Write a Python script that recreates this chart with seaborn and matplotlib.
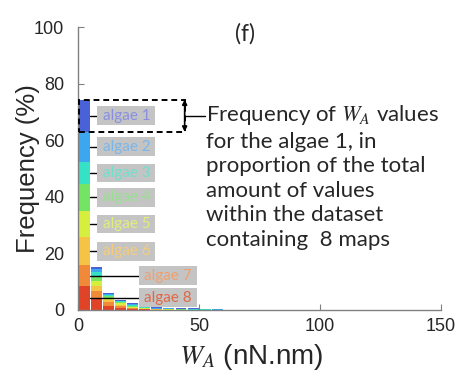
import numpy as np
import pandas as pd
import matplotlib
matplotlib.use("Agg")
import matplotlib.pyplot as plt
from matplotlib.patches import Rectangle
import seaborn as sns

sns.set_style("ticks")
plt.rcParams['font.family'] = ['Liberation Sans', 'DejaVu Sans']
plt.rcParams['mathtext.fontset'] = 'stix'

# ---- data (frequency in % per 5 nN.nm bin) ----
bin_centers = [2.5, 7.5, 12.5, 17.5, 22.5, 27.5, 32.5, 37.5, 42.5, 47.5, 52.5, 57.5]
algae_names = ["algae 1", "algae 2", "algae 3", "algae 4",
               "algae 5", "algae 6", "algae 7", "algae 8"]
algae1 = [11.4, 1.0, 0.3, 0.3, 0.4, 0.3, 0.3, 0.2, 0.2, 0.15, 0.1, 0.1]
algae2 = [10.6, 1.0, 0.3, 0.2, 0.4, 0.3, 0.3, 0.2, 0.2, 0.15, 0.15, 0.1]
algae3 = [7.9, 1.2, 0.4, 0.3, 0.3, 0.2, 0.1, 0.1, 0.1, 0.1, 0.05, 0.05]
algae4 = [9.4, 1.8, 0.6, 0.4, 0.3, 0.2, 0.1, 0.05, 0.05, 0.03, 0.03, 0.02]
algae5 = [9.4, 1.8, 0.8, 0.4, 0.2, 0.1, 0.05, 0.05, 0.02, 0.02, 0.02, 0.01]
algae6 = [10.0, 1.8, 0.8, 0.5, 0.2, 0.1, 0.05, 0.03, 0.02, 0.02, 0.01, 0.01]
algae7 = [7.1, 2.9, 1.2, 0.6, 0.3, 0.1, 0.05, 0.03, 0.02, 0.01, 0.01, 0.01]
algae8 = [8.6, 3.8, 1.5, 0.8, 0.3, 0.2, 0.05, 0.04, 0.03, 0.02, 0.02, 0.01]
series = [algae1, algae2, algae3, algae4, algae5, algae6, algae7, algae8]
colors = ["#4a62d8", "#3ca6ee", "#36e2c6", "#74e464",
          "#d6ee3e", "#f6c444", "#f08a38", "#e04428"]
text_colors = ["#8a8fe0", "#7ab6ec", "#70e0cc", "#98e090",
               "#e2ee7a", "#f4cc7a", "#f0a070", "#e06848"]
xticks = [0, 50, 100, 150]
yticks = [0, 20, 40, 60, 80, 100]

rows = []
for name, vals in zip(algae_names, series):
    for c, v in zip(bin_centers, vals):
        rows.append({"W": c, "freq": v, "algae": name})
df = pd.DataFrame(rows)

fig = plt.figure(figsize=(4.6, 3.72), dpi=100)
ax = fig.add_axes([0.170, 0.167, 0.789, 0.760])

sns.histplot(data=df, x="W", weights="freq", hue="algae", hue_order=algae_names,
             multiple="stack", binwidth=5, binrange=(0, 150), palette=colors,
             element="bars", edgecolor="none", linewidth=0, alpha=1, shrink=0.9,
             legend=False, ax=ax)

ax.set_xlim(0, 150)
ax.set_ylim(0, 100)
ax.set_xticks(xticks)
ax.set_yticks(yticks)
ax.tick_params(direction="in", length=4, color="#808080", labelsize=13,
               labelcolor="#262626")
ax.tick_params(axis="y", pad=10)
ax.tick_params(axis="x", pad=6)
for s in ["top", "right"]:
    ax.spines[s].set_visible(False)
for s in ["left", "bottom"]:
    ax.spines[s].set_color("#808080")
    ax.spines[s].set_linewidth(1.0)
ax.set_xlabel(r"$W_A$ (nN.nm)", fontsize=20, color="#262626")
ax.set_ylabel("Frequency (%)", fontsize=18.5, color="#262626")
ax.xaxis.set_label_coords(0.478, -0.115)
ax.yaxis.set_label_coords(-0.105, 0.5)

# ---- labels for each algae (based on first bin segments) ----
first = [s[0] for s in series]
tops = {}
cum = 0
for i in range(7, -1, -1):
    tops[i] = (cum, cum + first[i])
    cum += first[i]

for i, name in enumerate(algae_names):
    lo, hi = tops[i]
    ymid = (lo + hi) / 2
    x0 = 7.9 if i < 6 else 25.2
    ax.plot([5, x0], [ymid, ymid], color="black", lw=1.0, zorder=4)
    ax.add_patch(Rectangle((x0, ymid - 3.3), 24, 6.6, facecolor="#c4c4c4",
                           edgecolor="none", zorder=5))
    ax.text(x0 + 12, ymid, name, color=text_colors[i], fontsize=11,
            ha="center", va="center", family=["Lato", "DejaVu Sans"], zorder=6)

# ---- dashed box and annotation for algae 1 ----
lo, hi = tops[0]
ax.add_patch(Rectangle((0.4, lo), 43.6, hi - lo, facecolor="none",
                       edgecolor="black", lw=1.4, ls=(0, (3, 2)), zorder=7,
                       clip_on=False))
ax.annotate("", xy=(44, hi), xytext=(44, lo),
            arrowprops=dict(arrowstyle="<|-|>", color="black", lw=1.2,
                            shrinkA=0, shrinkB=0, mutation_scale=7), zorder=8)
ymid = (lo + hi) / 2
ax.plot([44, 52.5], [ymid, ymid], color="black", lw=1.0, zorder=7)
ax.text(53, ymid + 4.3, "Frequency of $W_A$ values\nfor the algae 1, in\n"
        "proportion of the total\namount of values\nwithin the dataset\n"
        "containing  8 maps",
        ha="left", va="top", fontsize=16, linespacing=1.28,
        family=["Lato", "DejaVu Sans"], color="#262626")

ax.text(69, 97.5, "(f)", ha="center", va="center", fontsize=16.5,
        family=["Lato", "DejaVu Sans"], color="#262626")

fig.savefig("out.png", dpi=100)
